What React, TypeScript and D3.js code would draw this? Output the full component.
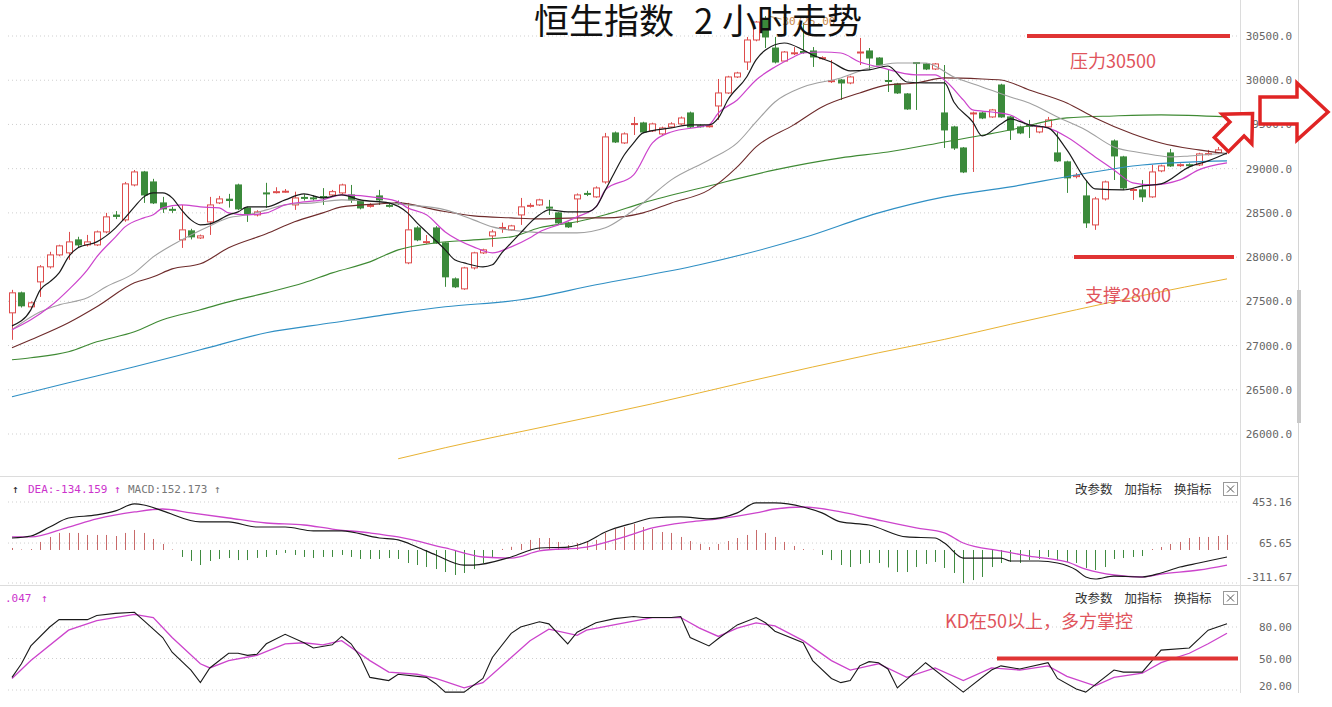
import React from "react";
import * as d3 from "d3";

const PRICE_TICKS = [30500, 30000, 29500, 29000, 28500, 28000, 27500, 27000, 26500, 26000];
const MACD_TICKS = [453.16, 65.65, -311.67];
const KD_TICKS = [80, 50, 20];
const MENU = ["改参数", "加指标", "换指标"];

// [open, high, low, close]
const CANDLES: [number, number, number, number][] = [
  [27370,27630,27065,27596],[27596,27610,27430,27449],[27438,27500,27420,27483],[27720,27910,27550,27890],
  [27890,28060,27870,28025],[28025,28140,28010,28127],[28048,28285,27969,28172],[28195,28230,28110,28138],
  [28138,28251,28120,28172],[28138,28300,28125,28285],[28285,28500,28270,28455],[28475,28520,28430,28460],
  [28421,28850,28400,28828],[28816,28985,28800,28963],[28963,28975,28613,28703],[28850,28885,28600,28613],
  [28613,28681,28500,28545],[28540,28570,28500,28530],[28195,28590,28104,28308],[28297,28320,28200,28229],
  [28217,28255,28205,28240],[28398,28681,28251,28590],[28613,28692,28600,28658],[28655,28715,28560,28640],
  [28816,28830,28530,28545],[28556,28570,28398,28489],[28477,28530,28460,28511],[28726,28840,28556,28715],
  [28730,28790,28720,28740],[28735,28770,28725,28745],[28590,28740,28534,28669],[28675,28710,28640,28665],
  [28670,28700,28640,28660],[28685,28780,28590,28675],[28703,28760,28690,28740],[28726,28830,28710,28816],
  [28703,28816,28613,28647],[28636,28650,28540,28556],[28575,28610,28560,28585],[28692,28760,28590,28647],
  [28585,28610,28560,28575],[28615,28640,28590,28610],[27935,28613,27920,28308],[28330,28350,28180,28195],
  [28165,28250,28150,28175],[28330,28350,28150,28161],[28161,28170,27664,27777],[27754,27770,27650,27664],
  [27641,27890,27630,27878],[27878,28060,27860,28048],[28048,28095,28035,28082],[28240,28310,28116,28285],
  [28325,28390,28275,28335],[28308,28365,28300,28353],[28477,28669,28364,28568],[28575,28610,28560,28585],
  [28590,28660,28580,28647],[28565,28647,28477,28555],[28500,28510,28370,28387],[28387,28400,28330,28342],
  [28658,28720,28387,28703],[28720,28750,28690,28710],[28681,28800,28670,28782],[28850,29404,28830,29359],
  [29404,29420,29290,29302],[29291,29410,29280,29393],[29500,29585,29381,29510],[29517,29530,29400,29415],
  [29427,29520,29415,29506],[29393,29475,29380,29460],[29472,29525,29460,29506],[29506,29590,29495,29573],
  [29630,29645,29460,29472],[29485,29500,29465,29480],[29480,29500,29465,29485],[29709,30014,29551,29856],
  [29856,30050,29845,30037],[30037,30095,30025,30082],[30206,30489,30116,30455],[30455,30670,30440,30658],
  [30681,30725,30364,30489],[30364,30489,30190,30206],[30217,30330,30205,30319],[30300,30375,30285,30310],
  [30325,30650,30300,30320],[30331,30375,30150,30263],[30245,30270,30235,30255],[29985,30229,29969,29995],
  [30003,30014,29777,29969],[29969,30050,29955,30037],[30310,30478,30172,30319],[30331,30364,30116,30251],
  [30251,30260,30160,30172],[29997,30116,29867,29990],[29958,29970,29845,29856],[29845,29855,29665,29675],
  [30200,30206,29664,30190],[30184,30195,30115,30127],[30127,30195,30115,30184],[29630,30172,29234,29438],
  [29472,29485,29212,29234],[29234,29245,28950,28963],[29620,29645,28963,29630],[29630,29645,29560,29573],
  [29585,29675,29575,29664],[29946,29960,29575,29585],[29585,29595,29325,29438],[29472,29485,29390,29404],
  [29490,29551,29347,29480],[29415,29485,29400,29472],[29472,29585,29460,29551],[29178,29415,29075,29088],
  [29077,29090,28726,28896],[28910,28950,28890,28925],[28692,28870,28330,28387],[28364,28681,28308,28658],
  [28658,28865,28640,28850],[29313,29330,28872,29144],[29133,29145,28760,28782],[28755,28782,28647,28765],
  [28760,28872,28624,28681],[28681,29042,28670,28963],[28975,29045,28960,29031],[29178,29223,29020,29031],
  [29035,29060,29020,29045],[29045,29060,29020,29035],[29042,29180,29030,29167],[29160,29212,29150,29170],
  [29178,29245,29165,29212],[29350,29393,29302,29360],
];

// moving averages: [candle index, value]
const MA5: [number, number][] = [
  [0,27223],[2,27404],[3,27630],[4,27720],[5,27822],[6,28003],[7,28105],[9,28172],[11,28331],[12,28444],
  [13,28568],[14,28681],[15,28726],[16,28726],[17,28670],[18,28534],[19,28421],[20,28365],[21,28376],[22,28421],
  [23,28478],[24,28511],[25,28568],[27,28568],[29,28647],[31,28715],[33,28670],[35,28704],[37,28647],[40,28613],
  [42,28500],[43,28387],[44,28285],[46,28082],[47,27969],[48,27935],[50,27890],[51,27913],[52,28048],[53,28161],
  [54,28274],[55,28387],[56,28478],[57,28534],[59,28511],[61,28511],[62,28568],[63,28760],[64,28963],[65,29155],
  [66,29291],[67,29404],[70,29461],[72,29495],[74,29495],[75,29574],[76,29777],[78,30037],[79,30229],[80,30342],
  [82,30421],[84,30342],[85,30286],[87,30206],[89,30105],[91,30116],[93,30161],[95,29980],[97,29969],[99,29969],
  [100,29754],[102,29528],[103,29370],[105,29506],[106,29562],[108,29495],[110,29461],[112,29212],[114,28873],
  [115,28771],[118,28760],[120,28805],[122,28828],[125,29020],[127,29088],[129,29178],
];
const MA10: [number, number][] = [
  [0,27178],[2,27291],[4,27438],[6,27630],[8,27856],[9,28003],[11,28229],[12,28342],[14,28444],[15,28478],
  [16,28557],[18,28591],[20,28568],[22,28557],[23,28500],[25,28478],[27,28500],[29,28591],[31,28624],[33,28647],
  [35,28704],[39,28670],[41,28624],[42,28557],[44,28478],[46,28285],[49,28116],[51,28048],[53,28116],[55,28218],
  [56,28285],[58,28365],[60,28455],[62,28568],[63,28760],[66,28930],[68,29291],[70,29415],[73,29472],[74,29495],
  [75,29630],[77,29777],[79,30003],[81,30150],[83,30263],[84,30308],[86,30319],[88,30308],[90,30206],[92,30150],
  [96,30060],[98,30060],[99,30003],[101,29777],[102,29664],[104,29641],[106,29607],[108,29495],[110,29461],
  [112,29359],[115,29133],[117,28986],[119,28839],[121,28817],[124,28873],[126,28986],[129,29065],
];
const MA20: [number, number][] = [
  [0,27178],[3,27381],[5,27460],[8,27540],[10,27664],[13,27822],[15,28003],[18,28195],[21,28353],[23,28444],
  [25,28478],[27,28534],[29,28591],[32,28613],[35,28647],[39,28624],[42,28591],[46,28534],[49,28421],[51,28342],
  [55,28285],[57,28274],[60,28274],[63,28331],[65,28455],[67,28613],[70,28873],[74,29099],[77,29291],[79,29528],
  [81,29754],[84,29924],[88,30026],[91,30139],[94,30195],[97,30195],[100,30037],[103,29924],[106,29811],
  [108,29743],[111,29585],[114,29438],[117,29246],[120,29178],[123,29133],[125,29144],[129,29178],
];
const MA30: [number, number][] = [
  [0,26975],[2,27065],[6,27257],[9,27438],[13,27709],[15,27777],[17,27867],[20,27924],[23,28105],[27,28263],
  [30,28399],[33,28500],[35,28568],[39,28602],[41,28613],[45,28534],[49,28466],[53,28444],[56,28432],[60,28444],
  [63,28444],[67,28500],[70,28613],[74,28760],[77,29020],[79,29246],[83,29495],[86,29698],[90,29856],[93,29947],
  [96,29969],[99,30026],[103,30014],[105,30003],[108,29890],[112,29743],[115,29574],[119,29393],[122,29291],
  [126,29212],[129,29167],
];
const MA60: [number, number][] = [
  [0,26839],[2,26862],[6,26929],[9,27042],[13,27155],[16,27291],[20,27404],[23,27494],[27,27596],[31,27709],
  [34,27822],[38,27946],[41,28082],[45,28161],[49,28195],[53,28229],[56,28331],[60,28399],[63,28478],[67,28613],
  [74,28805],[81,28986],[88,29122],[93,29189],[99,29302],[106,29438],[112,29574],[117,29596],[122,29608],[129,29585],
];
const MA120: [number, number][] = [
  [0,26421],[6,26579],[13,26760],[20,26952],[27,27144],[34,27257],[41,27370],[46,27438],[54,27517],[62,27687],
  [73,27913],[84,28218],[92,28500],[99,28681],[106,28794],[113,28929],[120,29042],[129,29088],
];
const MA250: [number, number][] = [
  [41,25720],[46,25845],[57,26093],[68,26342],[78,26590],[92,26918],[99,27070],[106,27240],[113,27405],
  [120,27565],[129,27754],
];

const MACD_HIST: number[] = [
  19,5,9,76,123,161,161,161,142,142,142,132,161,189,161,104,57,5,-66,-104,
  -142,-104,-85,-76,-95,-95,-75,-66,-47,-28,-47,-66,-76,-66,-66,-47,-66,-85,-85,-85,
  -76,-85,-123,-142,-161,-180,-208,-236,-217,-180,-123,-76,10,30,57,95,113,113,76,47,
  66,85,95,161,198,217,246,217,198,170,161,123,85,57,28,57,85,113,142,189,
  161,123,76,38,9,3,-47,-95,-142,-161,-132,-123,-123,-165,-208,-208,-161,-132,-113,-170,
  -217,-312,-284,-255,-161,-123,-113,-123,-95,-85,-66,-95,-113,-123,-170,-189,-161,-85,-76,-66,
  -57,9,28,57,76,113,123,123,132,142,
];
const DIF: [number, number][] = [
  [0,113],[2,132],[4,217],[6,302],[9,331],[11,369],[13,435],[14,425],[16,369],[20,265],[23,265],[26,217],
  [29,217],[32,180],[35,180],[39,113],[41,95],[43,28],[45,-47],[48,-142],[49,-142],[53,-66],[56,19],[59,28],
  [61,76],[63,170],[66,255],[68,302],[71,312],[74,293],[77,350],[79,444],[81,444],[84,406],[86,350],[88,265],
  [91,236],[95,123],[98,113],[99,66],[101,-76],[103,-76],[105,-76],[106,-104],[109,-104],[111,-123],[113,-189],
  [114,-255],[115,-274],[117,-246],[120,-255],[122,-217],[124,-161],[126,-123],[129,-66],
];
const DEA: [number, number][] = [
  [0,123],[2,123],[6,217],[9,293],[13,359],[16,387],[19,350],[23,302],[27,255],[31,236],[34,198],[38,161],
  [41,123],[46,19],[50,-66],[53,-76],[56,-9],[61,28],[65,123],[68,208],[72,265],[75,293],[79,350],[81,387],
  [84,406],[88,359],[91,302],[96,208],[99,161],[101,66],[105,-9],[108,-57],[112,-113],[114,-180],[117,-236],
  [120,-255],[122,-227],[126,-189],[129,-142],
];
const K_LINE: [number, number][] = [
  [0,32],[1,45],[2,62],[4,80],[5,87],[8,87],[9,91],[11,93],[13,94],[14,86],[16,70],[17,56],[19,39],[20,27],
  [21,41],[23,55],[24,55],[25,53],[26,54],[27,64],[29,73],[31,65],[32,60],[34,63],[35,71],[36,64],[37,51],
  [38,32],[40,29],[41,35],[44,32],[45,26],[46,18],[48,18],[50,31],[51,51],[53,74],[54,80],[56,85],[57,83],
  [59,64],[60,75],[62,84],[64,88],[66,90],[67,89],[70,89],[71,90],[72,70],[74,62],[75,69],[77,82],[79,89],
  [80,84],[81,76],[84,65],[85,48],[87,31],[88,27],[89,29],[90,43],[91,47],[92,46],[93,40],[94,22],[97,46],
  [101,18],[104,39],[105,43],[107,40],[110,46],[111,31],[113,21],[114,18],[117,39],[118,37],[120,37],[122,58],
  [125,60],[127,77],[129,83],
];
const D_LINE: [number, number][] = [
  [0,31],[2,48],[6,77],[9,86],[13,92],[15,89],[17,70],[20,45],[21,41],[23,48],[26,53],[29,64],[31,65],[33,63],
  [35,67],[38,48],[40,37],[43,35],[45,31],[48,22],[50,27],[53,51],[55,67],[57,78],[60,72],[61,77],[65,84],
  [68,89],[71,89],[73,79],[75,71],[77,79],[79,84],[81,81],[84,67],[87,48],[89,39],[91,43],[92,45],[95,32],
  [98,41],[101,29],[104,41],[107,39],[110,43],[112,33],[115,24],[117,32],[120,36],[122,46],[125,55],[127,64],
  [129,74],
];

const RED = "#dd4c4c";
const GREEN = "#3b8a3b";
const MONO = "'DejaVu Sans Mono', monospace";
const CJK = "'Noto Sans CJK SC', sans-serif";

export default function App() {
  const x = d3.scaleLinear().domain([0, CANDLES.length - 1]).range([12, 1227]);
  const y = d3.scaleLinear().domain([26000, 30500]).range([434, 36]);
  const ym = d3.scaleLinear().domain([-311.67, 453.16]).range([583, 502]);
  const yk = d3.scaleLinear().domain([20, 80]).range([690, 627]);

  const maLine = d3.line<[number, number]>().x(d => x(d[0])).y(d => y(d[1])).curve(d3.curveMonotoneX);
  const mLine = d3.line<[number, number]>().x(d => x(d[0])).y(d => ym(d[1])).curve(d3.curveMonotoneX);
  const kLine = d3.line<[number, number]>().x(d => x(d[0])).y(d => yk(d[1]));

  const maxIdx = d3.maxIndex(CANDLES, d => d[1]);
  const maxHigh = CANDLES[maxIdx][1];

  const mas: [[number, number][], string, number][] = [
    [MA250, "#e8b232", 1],
    [MA120, "#2f8fc4", 1.1],
    [MA60, "#3f8a34", 1.1],
    [MA30, "#6e2b2b", 1.1],
    [MA20, "#a0a0a0", 1.1],
    [MA10, "#cc44cc", 1.2],
    [MA5, "#1a1a1a", 1.2],
  ];

  const menu = (cy: number) => (
    <g>
      {MENU.map((m, i) => (
        <text key={m} x={1075 + i * 49.5} y={cy + 4.5} fontSize={12.5} fontFamily={CJK} fill="#333">{m}</text>
      ))}
      <rect x={1223.5} y={cy - 6.5} width={14} height={13} fill="#fff" stroke="#999" strokeWidth={1} />
      <path d={`M1227,${cy - 3.5}L1234,${cy + 3.5}M1234,${cy - 3.5}L1227,${cy + 3.5}`} stroke="#555" strokeWidth={1} />
    </g>
  );

  return (
    <svg width={1332} height={707} style={{ position: "fixed", left: 0, top: 0, background: "#fff" }}>
      <rect x={0} y={0} width={1332} height={707} fill="#fff" />
      {/* gridlines */}
      {PRICE_TICKS.map(t => (
        <line key={t} x1={8} x2={1238} y1={y(t)} y2={y(t)} stroke="#cfcfcf" strokeDasharray="1,3" />
      ))}
      {MACD_TICKS.map(t => (
        <line key={t} x1={8} x2={1238} y1={ym(t)} y2={ym(t)} stroke="#cfcfcf" strokeDasharray="1,3" />
      ))}
      {KD_TICKS.map(t => (
        <line key={t} x1={8} x2={1238} y1={yk(t)} y2={yk(t)} stroke="#cfcfcf" strokeDasharray="1,3" />
      ))}
      {/* frame */}
      <line x1={0} x2={1298} y1={476.5} y2={476.5} stroke="#dcdcdc" />
      <line x1={0} x2={1298} y1={585.5} y2={585.5} stroke="#dcdcdc" />
      <line x1={1240.5} x2={1240.5} y1={0} y2={693} stroke="#dcdcdc" />
      <line x1={1298.5} x2={1298.5} y1={0} y2={693} stroke="#d4d4d4" />
      <rect x={1297} y={290} width={4} height={133} fill="#c8c8c8" />

      {/* price labels */}
      {PRICE_TICKS.map(t => (
        <text key={t} x={1292} y={y(t) + 4} textAnchor="end" fontSize={11} fontFamily={MONO} fill="#666">{t.toFixed(1)}</text>
      ))}
      {MACD_TICKS.map(t => (
        <text key={t} x={1292} y={Math.min(ym(t), 577) + 4} textAnchor="end" fontSize={11} fontFamily={MONO} fill="#666">{t.toFixed(2)}</text>
      ))}
      {KD_TICKS.map(t => (
        <text key={t} x={1292} y={Math.min(yk(t), 686) + 4} textAnchor="end" fontSize={11} fontFamily={MONO} fill="#666">{t.toFixed(2)}</text>
      ))}

      {/* candles */}
      {CANDLES.map(([o, h, l, c], i) => {
        const cx = Math.round(x(i)) + 0.5;
        const up = c >= o;
        const top = y(Math.max(o, c));
        const bot = y(Math.min(o, c));
        const bh = Math.max(1, bot - top);
        const col = up ? RED : GREEN;
        return (
          <g key={i}>
            <line x1={cx} x2={cx} y1={y(h)} y2={top} stroke={col} strokeWidth={1} />
            <line x1={cx} x2={cx} y1={top + bh} y2={y(l)} stroke={col} strokeWidth={1} />
            {up ? (
              <rect x={cx - 3} y={top} width={6} height={bh} fill="#fff" stroke={col} strokeWidth={1} />
            ) : (
              <rect x={cx - 3.5} y={top - 0.5} width={7} height={bh + 1} fill={col} />
            )}
          </g>
        );
      })}

      {/* moving averages */}
      {mas.map(([d, col, w], i) => (
        <path key={i} d={maLine(d) || ""} fill="none" stroke={col} strokeWidth={w} />
      ))}

      {/* max high marker */}
      <line x1={x(maxIdx) + 3} x2={x(maxIdx) + 16} y1={y(maxHigh)} y2={y(maxHigh) + 3} stroke="#b58a5a" />
      <text x={x(maxIdx) + 17} y={y(maxHigh) + 9} fontSize={11} fontFamily={MONO} fill="#c8894c">{maxHigh.toFixed(2)}</text>

      {/* MACD panel */}
      {MACD_HIST.map((v, i) => (
        <line key={i} x1={Math.round(x(i)) + 0.5} x2={Math.round(x(i)) + 0.5} y1={ym(0)} y2={ym(v)}
          stroke={v >= 0 ? "#c86a6a" : "#3f8a3f"} strokeWidth={1} />
      ))}
      <path d={mLine(DEA) || ""} fill="none" stroke="#cc44cc" strokeWidth={1.3} />
      <path d={mLine(DIF) || ""} fill="none" stroke="#1a1a1a" strokeWidth={1.2} />
      <text y={493} fontSize={11} fontFamily={MONO}>
        <tspan x={12} fill="#222">↑</tspan>
        <tspan x={28} fill="#cc33cc">DEA:-134.159</tspan>
        <tspan x={114} fill="#cc33cc">↑</tspan>
        <tspan x={128} fill="#777">MACD:152.173</tspan>
        <tspan x={214} fill="#777">↑</tspan>
      </text>
      {menu(489)}

      {/* KD panel */}
      <path d={kLine(D_LINE) || ""} fill="none" stroke="#cc44cc" strokeWidth={1.3} />
      <path d={kLine(K_LINE) || ""} fill="none" stroke="#1a1a1a" strokeWidth={1.1} />
      <text y={602} fontSize={11} fontFamily={MONO}>
        <tspan x={5} fill="#cc33cc">.047</tspan>
        <tspan x={41} fill="#cc33cc">↑</tspan>
      </text>
      {menu(598)}

      {/* annotations */}
      <line x1={1027} x2={1230} y1={y(30500)} y2={y(30500)} stroke="#e03434" strokeWidth={4} />
      <text x={1070} y={68} fontSize={18} fontFamily={CJK} fill="#e0545c">压力30500</text>
      <line x1={1074} x2={1234} y1={y(28000)} y2={y(28000)} stroke="#e03434" strokeWidth={4} />
      <text x={1085} y={302} fontSize={18} fontFamily={CJK} fill="#e0545c">支撑28000</text>
      <line x1={997} x2={1238} y1={yk(50)} y2={yk(50)} stroke="#e03434" strokeWidth={4} />
      <text x={945} y={628} fontSize={18} fontFamily={CJK} fill="#e0545c">KD在50以上，多方掌控</text>

      <g transform="translate(1237,129) rotate(-45)">
        <polygon points="-22,-10 0,-10 0,-21 22,0 0,21 0,10 -22,10" fill="#fff" stroke="#e02424" strokeWidth={3.5} strokeLinejoin="miter" />
      </g>
      <polygon points="1260,97 1297,97 1297,83 1328,112 1297,140 1297,124 1260,124" fill="#fff" stroke="#e02424" strokeWidth={3.5} />

      {/* title */}
      <text y={34} fontSize={35} fontFamily={CJK} fill="#111">
        <tspan x={534}>恒生指数</tspan>
        <tspan x={694}>2</tspan>
        <tspan x={722}>小时走势</tspan>
      </text>
    </svg>
  );
}
